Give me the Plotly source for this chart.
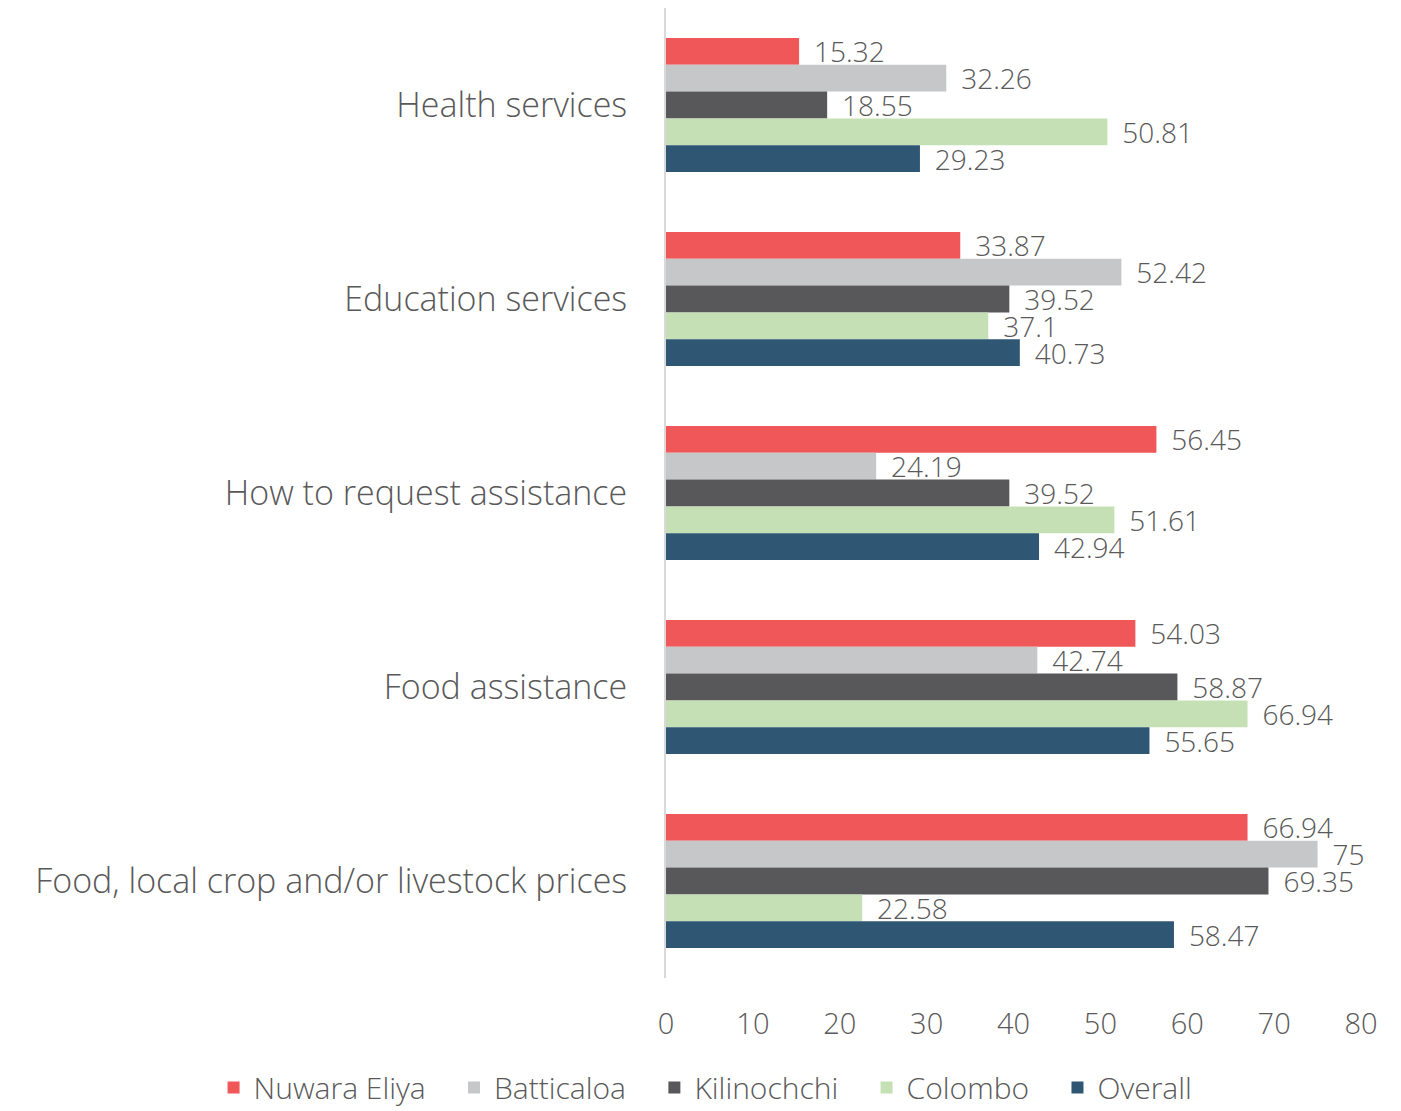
import plotly.graph_objects as go

categories = [
    "Health services",
    "Education services",
    "How to request assistance",
    "Food assistance",
    "Food, local crop and/or livestock prices",
]

nuwara_eliya = [15.32, 33.87, 56.45, 54.03, 66.94]
batticaloa = [32.26, 52.42, 24.19, 42.74, 75]
kilinochchi = [18.55, 39.52, 39.52, 58.87, 69.35]
colombo = [50.81, 37.1, 51.61, 66.94, 22.58]
overall = [29.23, 40.73, 42.94, 55.65, 58.47]

series = [
    ("Nuwara Eliya", nuwara_eliya, "#EF5759"),
    ("Batticaloa", batticaloa, "#C6C7C9"),
    ("Kilinochchi", kilinochchi, "#58585A"),
    ("Colombo", colombo, "#C5E0B4"),
    ("Overall", overall, "#2F5673"),
]

x_ticks = [0, 10, 20, 30, 40, 50, 60, 70, 80]

TEXT = "#595959"
FONT = "Open Sans"
# extra room after each legend entry
LEGEND_PAD = "\u00a0\u00a0\u00a0"

fig = go.Figure()
for name, vals, color in series:
    fig.add_trace(go.Bar(
        y=categories,
        x=vals,
        name=name + LEGEND_PAD,
        orientation="h",
        marker=dict(color=color, line=dict(width=0)),
        # a little leading space keeps the value labels off the bar end
        text=[f"\u00a0\u2009{v:g}" for v in vals],
        textposition="outside",
        constraintext="none",
        textfont=dict(family=FONT, size=28, color=TEXT, weight=300),
        cliponaxis=False,
    ))

fig.update_layout(
    width=1401,
    height=1111,
    barmode="group",
    bargap=0.31,
    bargroupgap=0,
    plot_bgcolor="white",
    paper_bgcolor="white",
    margin=dict(l=666, r=40, t=8, b=133, autoexpand=False),
    font=dict(family=FONT, color=TEXT, weight=300),
    xaxis=dict(
        range=[0, 80],
        tickvals=x_ticks,
        showgrid=False,
        zeroline=False,
        showline=False,
        tickfont=dict(family=FONT, size=29, color=TEXT, weight=300),
        ticklabelstandoff=26,
    ),
    yaxis=dict(
        autorange="reversed",
        showgrid=False,
        showline=True,
        linecolor="#D9D9D9",
        linewidth=2,
        ticks="",
        tickfont=dict(family=FONT, size=34, color=TEXT, weight=300),
        ticklabelstandoff=30,
    ),
    # legend sits left of and below the plot area so it may span the full width
    legend=dict(
        orientation="h",
        x=-0.651,
        xanchor="left",
        y=-0.113,
        yanchor="middle",
        font=dict(family=FONT, size=30, color=TEXT, weight=300),
        traceorder="normal",
    ),
    showlegend=True,
)

fig.write_html("out.html")
